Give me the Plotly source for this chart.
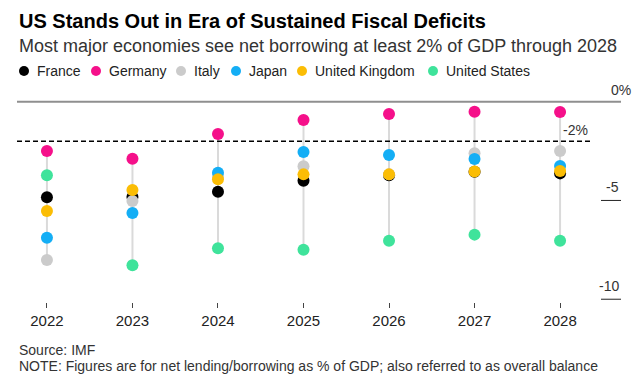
import plotly.graph_objects as go

years = [2022, 2023, 2024, 2025, 2026, 2027, 2028]
france = [-4.84, -4.83, -4.56, -4.00, -3.72, -3.55, -3.63]
germany = [-2.50, -2.89, -1.64, -0.93, -0.62, -0.51, -0.52]
italy = [-8.02, -5.03, -3.80, -3.27, -3.68, -2.61, -2.50]
japan = [-6.89, -5.64, -3.60, -2.55, -2.70, -2.90, -3.26]
uk = [-5.53, -4.47, -3.93, -3.68, -3.68, -3.54, -3.51]
us = [-3.73, -8.28, -7.42, -7.49, -7.04, -6.73, -7.04]

names = ["France", "Germany", "Italy", "Japan", "United Kingdom", "United States"]
series = [france, germany, italy, japan, uk, us]
colors = ["#000000", "#f5108a", "#cbcbcb", "#14aef5", "#fbbd05", "#3fe39b"]

y_ticks = [-5, -10]
y_tick_labels = ["-5", "-10"]
zero_label = "0%"
threshold = -2
threshold_label = "-2%"

FONT = "Liberation Sans, Arial, sans-serif"

# layout constants (pixels)
W, HT = 639, 381
L, R = 17, 590
T, B = 90, 302
PW, PH = R - L, B - T
legend_text_x = [35, 107, 192, 247, 313, 444]


def px_x(px):
    return (px - L) / PW


def py(px):
    return (B - px) / PH


fig = go.Figure()

# connector lines (min to max per year)
lx, ly = [], []
for i, yr in enumerate(years):
    vals = [s[i] for s in series]
    lx += [yr, yr, None]
    ly += [min(vals), max(vals), None]
fig.add_trace(go.Scatter(x=lx, y=ly, mode="lines",
                         line=dict(color="#dadada", width=2),
                         hoverinfo="skip", showlegend=False))

for name, vals, col in zip(names, series, colors):
    fig.add_trace(go.Scatter(x=years, y=vals, mode="markers", name=name,
                             marker=dict(color=col, size=12, line=dict(width=0)),
                             showlegend=False))

shapes = [
    dict(type="line", xref="paper", yref="y", x0=0, x1=px_x(621), y0=0, y1=0,
         line=dict(color="#8f8f8f", width=2)),
    dict(type="line", xref="paper", yref="y", x0=0, x1=1, y0=threshold, y1=threshold,
         line=dict(color="#000000", width=1.5, dash="5px,3px")),
]
for t in y_ticks:
    shapes.append(dict(type="line", xref="paper", yref="y",
                       x0=px_x(601), x1=px_x(621), y0=t, y1=t,
                       line=dict(color="#222222", width=1)))

annotations = [
    dict(text="<b>US Stands Out in Era of Sustained Fiscal Deficits</b>", xref="paper", yref="paper",
         x=0, y=py(21), xanchor="left", yanchor="middle", showarrow=False,
         font=dict(size=20, color="#000000", family=FONT)),
    dict(text="Most major economies see net borrowing at least 2% of GDP through 2028", xref="paper",
         yref="paper", x=0, y=py(46), xanchor="left", yanchor="middle", showarrow=False,
         font=dict(size=18, color="#333333", family=FONT)),
    dict(text="Source: IMF", xref="paper", yref="paper", x=0, y=py(350), xanchor="left",
         yanchor="middle", showarrow=False, font=dict(size=14, color="#333333", family=FONT)),
    dict(text="NOTE: Figures are for net lending/borrowing as % of GDP; also referred to as overall balance",
         xref="paper", yref="paper", x=0, y=py(366), xanchor="left", yanchor="middle",
         showarrow=False, font=dict(size=14, color="#333333", family=FONT)),
    dict(text=zero_label, xref="paper", yref="y", x=px_x(633), y=0, xanchor="right",
         yanchor="bottom", yshift=2, showarrow=False, font=dict(size=14, color="#333333", family=FONT)),
    dict(text=threshold_label, xref="paper", yref="y", x=1, y=threshold, xanchor="right",
         yanchor="bottom", yshift=1, showarrow=False, font=dict(size=14, color="#333333", family=FONT)),
]
for t, lab in zip(y_ticks, y_tick_labels):
    annotations.append(dict(text=lab, xref="paper", yref="y", x=px_x(621), y=t,
                            xanchor="right", yanchor="bottom", yshift=3, showarrow=False,
                            font=dict(size=14, color="#333333", family=FONT)))

# legend built from names/colors
for n, c, tx in zip(names, colors, legend_text_x):
    annotations.append(dict(text=n, xref="paper", yref="paper", x=px_x(tx), y=py(71),
                            xanchor="left", yanchor="middle", showarrow=False,
                            font=dict(size=14, color="#222222", family=FONT)))
    shapes.append(dict(type="circle", xref="paper", yref="paper",
                       xsizemode="pixel", ysizemode="pixel",
                       xanchor=px_x(tx - 11), yanchor=py(71),
                       x0=-5, x1=5, y0=-5, y1=5,
                       fillcolor=c, line=dict(width=0)))

fig.update_layout(
    width=W, height=HT,
    margin=dict(l=L, r=W - R, t=T, b=HT - B),
    paper_bgcolor="white", plot_bgcolor="white",
    showlegend=False, hovermode=False,
    shapes=shapes, annotations=annotations,
    xaxis=dict(range=[2021.65, 2028.35], tickvals=years, ticktext=[str(y) for y in years],
               ticks="outside", ticklen=5, tickcolor="#444444", tickwidth=1,
               showgrid=False, zeroline=False, showline=False,
               tickfont=dict(size=15, color="#222222", family=FONT)),
    yaxis=dict(range=[-10.14, 0.59], showgrid=False, zeroline=False, showline=False,
               showticklabels=False, ticks=""),
)

fig.write_html("out.html", config={"displayModeBar": False},
               post_script="document.body.style.margin='0';")
